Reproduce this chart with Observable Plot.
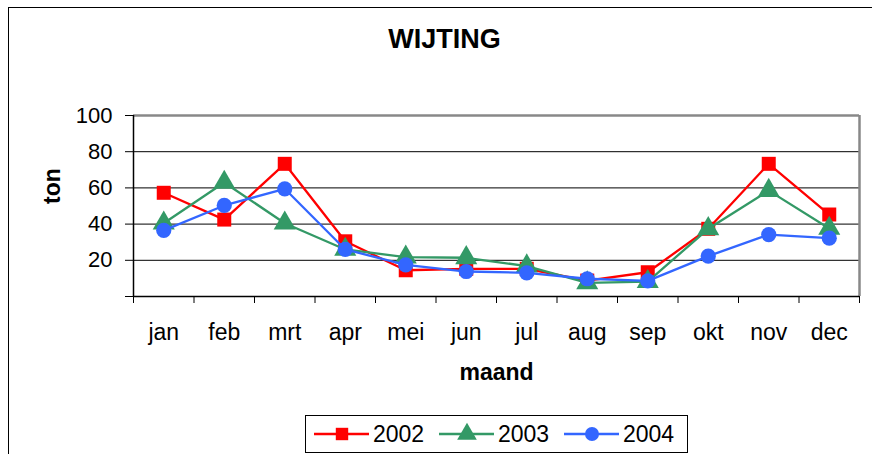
<!DOCTYPE html>
<html>
<head>
<meta charset="utf-8">
<script src="https://cdn.jsdelivr.net/npm/d3@7"></script>
<script src="https://cdn.jsdelivr.net/npm/@observablehq/plot@0.6"></script>
<style>
  html, body { margin: 0; padding: 0; background: #fff; }
  #wrap { position: relative; width: 872px; height: 454px; overflow: hidden; font-family: "Liberation Sans", Arial, sans-serif; }
  #outer { position: absolute; left: 8px; top: 7px; width: 900px; height: 500px; border-left: 1.5px solid #000; border-top: 1.5px solid #000; }
  #chart { position: absolute; left: 0; top: 0; }
  #legend { position: absolute; left: 305px; top: 415px; width: 381px; height: 36px; border: 1px solid #000; background: #fff; }
</style>
</head>
<body>
<div id="wrap">
  <div id="outer"></div>
  <div id="chart"></div>
  <div id="legend"></div>
</div>
<script>
const months = ["jan","feb","mrt","apr","mei","jun","jul","aug","sep","okt","nov","dec"];
const years = ["2002","2003","2004"];
const v2002 = [57.3, 42.5, 73.3, 30.5, 14.5, 15.3, 15.3, 8.8, 13.4, 37.4, 73.3, 45.3];
const v2003 = [40.5, 63.0, 40.5, 26.0, 21.7, 21.4, 16.8, 7.5, 8.2, 37.4, 58.5, 37.6];
const v2004 = [36.5, 50.3, 59.5, 26.0, 17.5, 13.8, 13.1, 9.8, 8.6, 22.3, 34.2, 32.2];
const yTicks = [0, 20, 40, 60, 80, 100];
const gridValues = [20, 40, 60, 80];
const colors = ["#ff0000", "#339966", "#3366ff"];
const symbols = ["square", "triangle", "circle"];
const title = "WIJTING";
const yLabel = "ton";
const xLabel = "maand";

const series = [v2002, v2003, v2004];
const data = years.map((yr, s) => series[s].map((v, i) => ({year: yr, month: months[i], xi: i + 0.5, value: v})));

const marks = [
  Plot.ruleY(gridValues, {stroke: "#000", strokeWidth: 1}),
  Plot.ruleY([100], {stroke: "#888", strokeWidth: 2.5}),
  Plot.ruleX([12], {stroke: "#888", strokeWidth: 2.5}),
  Plot.axisY({ticks: yTicks, tickSize: 8, tickPadding: 13, tickFormat: d => d === 0 ? "" : String(d), fontSize: 22, label: null, stroke: "#000"}),
  Plot.axisX({ticks: d3.range(13), tickSize: 7, tickFormat: () => "", label: null}),
  Plot.axisX({ticks: months.map((m, i) => i + 0.5), tickSize: 0, tickPadding: 27, tickFormat: d => months[Math.round(d - 0.5)], fontSize: 23, label: null}),
  Plot.ruleX([0], {stroke: "#000", strokeWidth: 1.5}),
  Plot.ruleY([0], {stroke: "#000", strokeWidth: 1.5}),
  Plot.text([title], {frameAnchor: "top", lineAnchor: "middle", text: d => d, dx: -52, dy: -76, fontSize: 27, fontWeight: "bold", fill: "#000"}),
  Plot.text([yLabel], {frameAnchor: "left", lineAnchor: "middle", text: d => d, dx: -81, dy: -2, rotate: -90, fontSize: 23, fontWeight: "bold", fill: "#000"}),
  Plot.text([xLabel], {frameAnchor: "bottom", lineAnchor: "middle", text: d => d, dy: 76, fontSize: 23, fontWeight: "bold", fill: "#000"})
];
data.forEach((d, s) => {
  marks.push(Plot.line(d, {x: "xi", y: "value", stroke: colors[s], strokeWidth: 2.3}));
  marks.push(Plot.dot(d, {x: "xi", y: "value", symbol: () => symbols[s], fill: colors[s], stroke: "none", r: s === 1 ? 8.2 : (s === 0 ? 7.9 : 7.6)}));
});

const chart = Plot.plot({
  width: 872,
  height: 454,
  marginLeft: 133,
  marginRight: 13,
  marginTop: 115,
  marginBottom: 158,
  style: {fontFamily: "'Liberation Sans', Arial, sans-serif", background: "transparent", color: "#000"},
  x: {type: "linear", domain: [0, 12]},
  y: {type: "linear", domain: [0, 100]},
  symbol: {type: "identity"},
  marks
});
document.getElementById("chart").appendChild(chart);

// Legend
const lg = d3.select("#legend").append("svg").attr("width", 381).attr("height", 36)
  .style("font-family", "'Liberation Sans', Arial, sans-serif");
const lineStarts = [8, 133, 258];
const symMap = {square: d3.symbolSquare, triangle: d3.symbolTriangle, circle: d3.symbolCircle};
years.forEach((yr, s) => {
  const x0 = lineStarts[s];
  lg.append("line").attr("x1", x0).attr("x2", x0 + 55).attr("y1", 18).attr("y2", 18)
    .attr("stroke", colors[s]).attr("stroke-width", 2.3);
  const r = s === 1 ? 7.3 : 7;
  lg.append("path").attr("d", d3.symbol(symMap[symbols[s]], Math.PI * r * r)())
    .attr("transform", `translate(${x0 + 28},18)`).attr("fill", colors[s]);
  lg.append("text").attr("x", x0 + 59).attr("y", 18).attr("dy", "0.35em")
    .attr("font-size", 23).text(yr);
});
</script>
</body>
</html>
